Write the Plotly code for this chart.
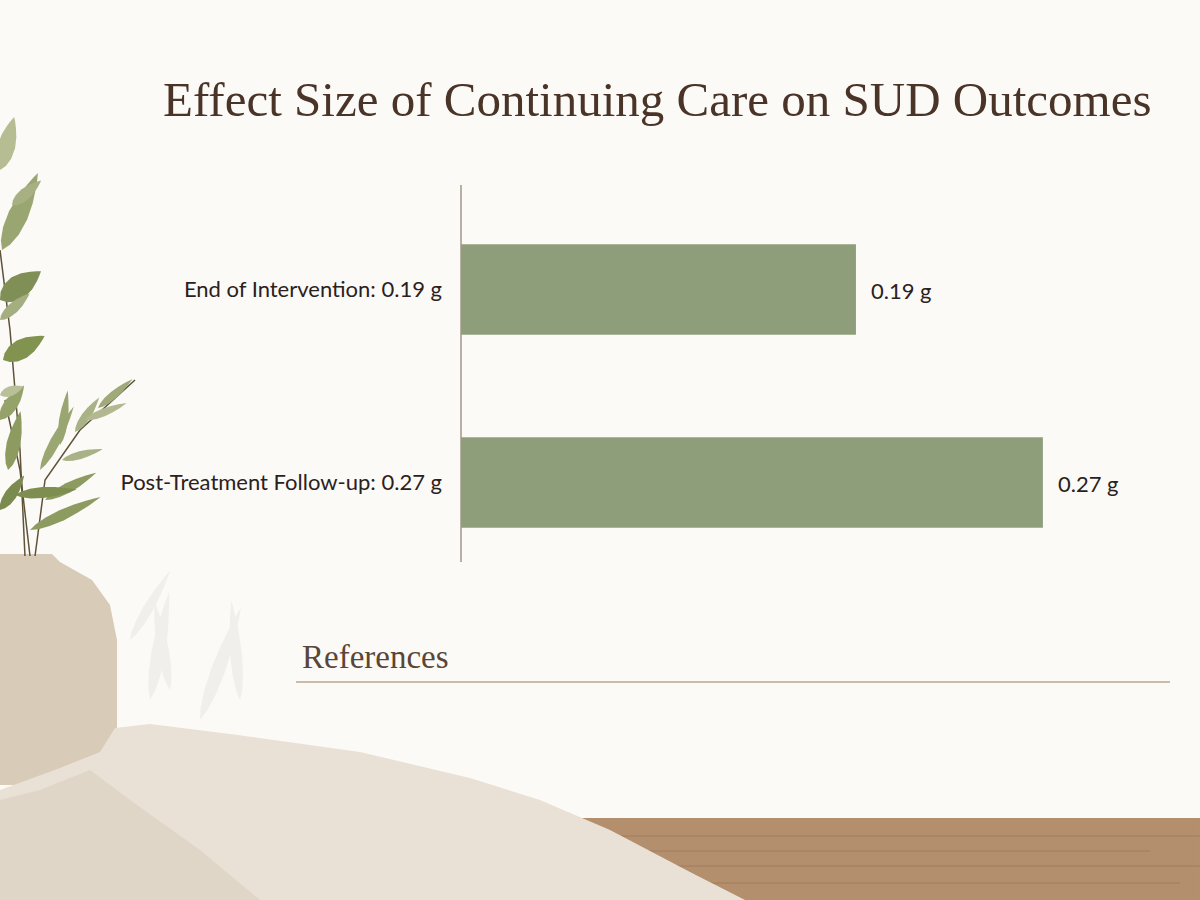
import plotly.graph_objects as go
import math

########## DATA ##########
categories = ["End of Intervention", "Post-Treatment Follow-up"]
effect_sizes = [0.19, 0.27]
unit = "g"
tick_labels = [f"{c}: {v:.2f} {unit}" for c, v in zip(categories, effect_sizes)]
value_labels = [f"{v:.2f} {unit}" for v in effect_sizes]

title_text = "Effect Size of Continuing Care on SUD Outcomes"
refs_text = "References"

########## LAYOUT HELPERS ##########
W, H = 1200, 900
BG = "#fbfaf7"
# plot area, in window pixels
PL, PR, PT, PB = 461, 1170, 193, 579

def px(x, y):
    # window pixel position -> paper coords
    return (x - PL) / (PR - PL), (PB - y) / (PB - PT)

def path(points, close=True):
    s = ""
    for i, (x, y) in enumerate(points):
        a, b = px(x, y)
        s += ("M" if i == 0 else "L") + f"{a:.4f},{b:.4f} "
    return s + ("Z" if close else "")

def leaf(x, y, ang, length, width):
    # pointed leaf, points either side of the midrib
    pts = []
    ca, sa = math.cos(math.radians(ang)), math.sin(math.radians(ang))
    side = []
    for t in [0, 0.1, 0.25, 0.45, 0.65, 0.82, 0.93, 1.0]:
        w = width * math.sin(math.pi * t ** 0.8) ** 0.9
        side.append((t * length, w))
    for (d, w) in side:
        pts.append((x + d * ca - w * sa * 0.5, y - d * sa - w * ca * 0.5))
    for (d, w) in reversed(side[1:-1]):
        pts.append((x + d * ca + w * sa * 0.5, y - d * sa + w * ca * 0.5))
    return path(pts)

def deco(pts, fill):
    return dict(type="path", xref="paper", yref="paper", path=path(pts),
                fillcolor=fill, line=dict(width=0), layer="below")

shapes = []

# faint plant shadow on the wall
for x, y, a, l, w in [(150, 700, 80, 110, 14), (170, 690, 100, 90, 12), (200, 720, 70, 120, 14),
                      (240, 700, 95, 100, 12), (130, 640, 60, 80, 10)]:
    shapes.append(dict(type="path", xref="paper", yref="paper", path=leaf(x, y, a, l, w),
                       fillcolor="#f1efec", line=dict(width=0), layer="below"))

# table top
shapes.append(deco([(565, 818), (1200, 818), (1200, 900), (565, 900)], "#b48f6d"))
for yy, x0, x1 in [(836, 600, 1200), (851, 640, 1150), (866, 620, 1200), (883, 700, 1180)]:
    a0, b0 = px(x0, yy)
    a1, b1 = px(x1, yy)
    shapes.append(dict(type="line", xref="paper", yref="paper", x0=a0, y0=b0, x1=a1, y1=b1,
                       line=dict(color="#a27d5b", width=1), layer="below"))

# vase
shapes.append(deco([(0, 554), (52, 554), (60, 562), (92, 580), (110, 605), (117, 640),
                    (117, 785), (0, 785)], "#d8cbb8"))

# cloth
shapes.append(deco([(0, 790), (60, 768), (100, 752), (115, 728), (150, 724), (230, 734),
                    (360, 752), (470, 778), (540, 800), (610, 830), (690, 872), (745, 900),
                    (0, 900)], "#e9e1d5"))
shapes.append(deco([(0, 900), (0, 800), (40, 790), (90, 770), (130, 800), (200, 850),
                    (260, 900)], "#e0d6c7"))

# plant stems
for pts in [[(25, 556), (20, 450), (10, 330), (0, 250)],
            [(35, 556), (45, 480), (80, 430), (135, 380)],
            [(30, 556), (20, 470), (5, 400)]]:
    shapes.append(dict(type="path", xref="paper", yref="paper", path=path(pts, close=False),
                       line=dict(color="#5e5238", width=1.5), layer="below"))

# leaves
leaves = [
    (2, 250, 65, 85, 20, "#9aa672"), (0, 300, 35, 50, 24, "#7f8f55"),
    (0, 170, 75, 55, 18, "#b7bd93"), (12, 205, 40, 38, 12, "#a7b082"),
    (3, 360, 30, 48, 20, "#82934f"), (0, 320, 42, 40, 11, "#a5ae80"),
    (8, 470, 78, 60, 14, "#8d9b60"), (40, 470, 62, 72, 10, "#9ba772"),
    (45, 500, 28, 58, 10, "#8d9b60"), (60, 445, 82, 55, 9, "#9aa672"),
    (75, 432, 55, 42, 9, "#a9b286"), (85, 420, 22, 45, 8, "#b2b991"),
    (98, 408, 40, 45, 8, "#9fa979"), (62, 460, 15, 42, 8, "#a9b286"),
    (15, 495, 5, 62, 11, "#7e8e50"), (30, 530, 25, 78, 11, "#8d9b60"),
    (0, 420, 55, 42, 14, "#95a36a"), (0, 510, 55, 42, 12, "#7b8a4f"),
    (0, 395, 20, 25, 10, "#b9bf98"),
]
for x, y, a, l, w, c in leaves:
    shapes.append(dict(type="path", xref="paper", yref="paper", path=leaf(x, y, a, l, w),
                       fillcolor=c, line=dict(width=0), layer="below"))

# value axis line
ax0, ay0 = px(461, 185)
ax1, ay1 = px(461, 562)
shapes.append(dict(type="line", xref="paper", yref="paper", x0=ax0, y0=ay0, x1=ax1, y1=ay1,
                   line=dict(color="#a39686", width=1.5)))

# references rule
r0, rb = px(296, 682)
r1, _ = px(1170, 682)
shapes.append(dict(type="line", xref="paper", yref="paper", x0=r0, y0=rb, x1=r1, y1=rb,
                   line=dict(color="#cbbcaa", width=2)))

########## FIGURE ##########
fig = go.Figure(go.Bar(
    x=effect_sizes,
    y=tick_labels,
    orientation="h",
    marker=dict(color="#8f9e7a", line=dict(width=0)),
    hoverinfo="x+y",
))

label_font = dict(family="Lato", size=22, color="#2b211c")

annotations = []
for lab, v, txt in zip(tick_labels, effect_sizes, value_labels):
    annotations.append(dict(x=v, y=lab, xref="x", yref="y", text=txt, showarrow=False,
                            xanchor="left", xshift=13, yshift=-1, font=label_font))

tx, ty = px(657, 99)
annotations.append(dict(x=tx, y=ty, xref="paper", yref="paper", text=title_text, showarrow=False,
                        xanchor="center", yanchor="middle",
                        font=dict(family="Liberation Serif", size=49, color="#4a3427")))
rx, ry = px(300, 657)
annotations.append(dict(x=rx, y=ry, xref="paper", yref="paper", text=refs_text, showarrow=False,
                        xanchor="left", yanchor="middle",
                        font=dict(family="Liberation Serif", size=33, color="#5a4536")))

x_start = 0.021
fig.update_layout(
    width=W, height=H,
    margin=dict(l=PL, r=W - PR, t=PT, b=H - PB),
    paper_bgcolor=BG,
    plot_bgcolor="rgba(0,0,0,0)",
    showlegend=False,
    bargap=0.53,
    shapes=shapes,
    annotations=annotations,
    xaxis=dict(range=[x_start, x_start + (PR - PL) / 2337], visible=False, fixedrange=True),
    yaxis=dict(autorange="reversed", showgrid=False, zeroline=False, showline=False,
               ticks="", ticklabelstandoff=18, tickfont=label_font),
)

# drop the page margin so the figure fills the window
fig.write_html("out.html", config={"displayModeBar": False},
               post_script=f"document.body.style.margin='0';document.body.style.background='{BG}';")
